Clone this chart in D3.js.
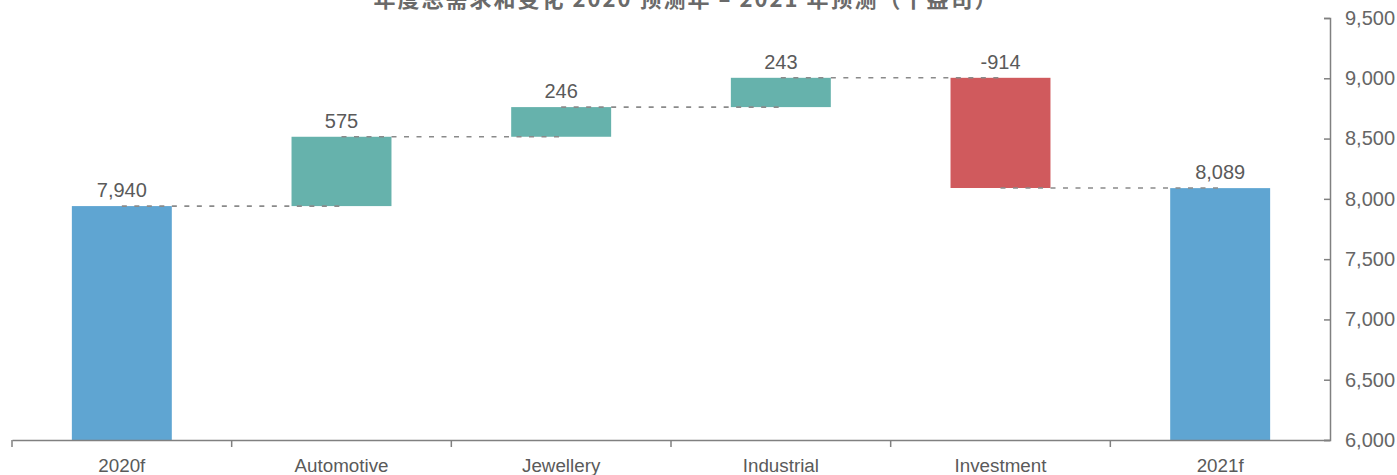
<!DOCTYPE html>
<html>
<head>
<meta charset="utf-8">
<script src="https://cdn.jsdelivr.net/npm/d3@7"></script>
<style>
  body { margin: 0; background: #fff; }
  svg text { font-family: "Liberation Sans", Arial, sans-serif; }
</style>
</head>
<body>
<svg id="chart" width="1397" height="475"></svg>
<script>
'use strict';

var title = '年度总需求和变化 2020 预测年 – 2021 年预测（千盎司）';
var categories = ['2020f', 'Automotive', 'Jewellery', 'Industrial', 'Investment', '2021f'];
var changes = [7940, 575, 246, 243, -914, 8089];
var kinds = ['total', 'delta', 'delta', 'delta', 'delta', 'total'];
var labels = ['7,940', '575', '246', '243', '-914', '8,089'];
var yTicks = [6000, 6500, 7000, 7500, 8000, 8500, 9000, 9500];

var colours = { total: '#5fa5d2', up: '#66b2ac', down: '#d05a5d' };

var svg = d3.select('#chart');

var x = d3.scaleBand().domain(categories).range([12, 1330]).padding(0);
var y = d3.scaleLinear().domain([6000, 9500]).range([440, 18]);
var barW = x.bandwidth() * 0.455;

// running totals for the waterfall
var steps = [];
var level = 0;
categories.forEach(function (c, i) {
  var lo, hi, end;
  if (kinds[i] === 'total') {
    lo = 6000; hi = changes[i]; end = changes[i];
  } else {
    end = level + changes[i];
    lo = Math.min(level, end); hi = Math.max(level, end);
  }
  steps.push({ cat: c, lo: lo, hi: hi, end: end, kind: kinds[i], v: changes[i], label: labels[i] });
  level = end;
});

function barColour(d) {
  if (d.kind === 'total') return colours.total;
  return d.v >= 0 ? colours.up : colours.down;
}

svg.append('g').selectAll('rect')
  .data(steps)
  .enter()
  .append('rect')
  .attr('x', function (d) { return x(d.cat) + (x.bandwidth() - barW) / 2; })
  .attr('y', function (d) { return y(d.hi); })
  .attr('width', barW)
  .attr('height', function (d) { return y(d.lo) - y(d.hi); })
  .attr('fill', barColour);

// dashed connectors, centre of one bar to centre of the next
svg.append('g').selectAll('line')
  .data(steps.slice(0, -1))
  .enter()
  .append('line')
  .attr('x1', function (d) { return x(d.cat) + x.bandwidth() / 2; })
  .attr('x2', function (d, i) { return x(steps[i + 1].cat) + x.bandwidth() / 2; })
  .attr('y1', function (d) { return y(d.end); })
  .attr('y2', function (d) { return y(d.end); })
  .attr('stroke', '#8a8a8a')
  .attr('stroke-width', 1.6)
  .attr('stroke-dasharray', '5,7.5');

// value labels
svg.append('g').selectAll('text')
  .data(steps)
  .enter()
  .append('text')
  .attr('x', function (d) { return x(d.cat) + x.bandwidth() / 2; })
  .attr('y', function (d) { return y(d.hi) - 9; })
  .attr('text-anchor', 'middle')
  .attr('font-size', 20)
  .attr('fill', '#5a5a5a')
  .text(function (d) { return d.label; });

// bottom axis
var xAxis = svg.append('g')
  .attr('transform', 'translate(0,440)')
  .call(d3.axisBottom(x).tickSize(0).tickPadding(19));
xAxis.select('.domain').attr('stroke', '#808080').attr('stroke-width', 1.5);
xAxis.selectAll('text').attr('font-size', 18.8).attr('fill', '#5a5a5a')
  .attr('font-family', '"Liberation Sans", Arial, sans-serif');

var bounds = categories.map(function (c) { return x(c); }).concat([x.range()[1]]);
svg.append('g').selectAll('line')
  .data(bounds.slice(0, -1))
  .enter()
  .append('line')
  .attr('x1', function (d) { return d; })
  .attr('x2', function (d) { return d; })
  .attr('y1', 440)
  .attr('y2', 447)
  .attr('stroke', '#808080')
  .attr('stroke-width', 1.5);

// right axis
var yAxis = svg.append('g')
  .attr('transform', 'translate(1330,0)')
  .call(d3.axisRight(y).tickValues(yTicks).tickSizeInner(-6).tickSizeOuter(-6)
    .tickPadding(15).tickFormat(d3.format(',')));
yAxis.select('.domain').attr('stroke', '#808080').attr('stroke-width', 1.5);
yAxis.selectAll('.tick line').attr('stroke', '#808080').attr('stroke-width', 1.5);
yAxis.selectAll('text').attr('font-size', 20).attr('fill', '#666')
  .attr('font-family', '"Liberation Sans", Arial, sans-serif');

// title, clipped by the top edge as in the source
svg.append('text')
  .attr('x', 686)
  .attr('y', 7)
  .attr('text-anchor', 'middle')
  .attr('font-size', 22)
  .attr('font-weight', 'bold')
  .attr('letter-spacing', 2)
  .attr('fill', '#6a6a6a')
  .style('font-family', '"Noto Sans CJK SC", sans-serif')
  .text(title);
</script>
</body>
</html>
